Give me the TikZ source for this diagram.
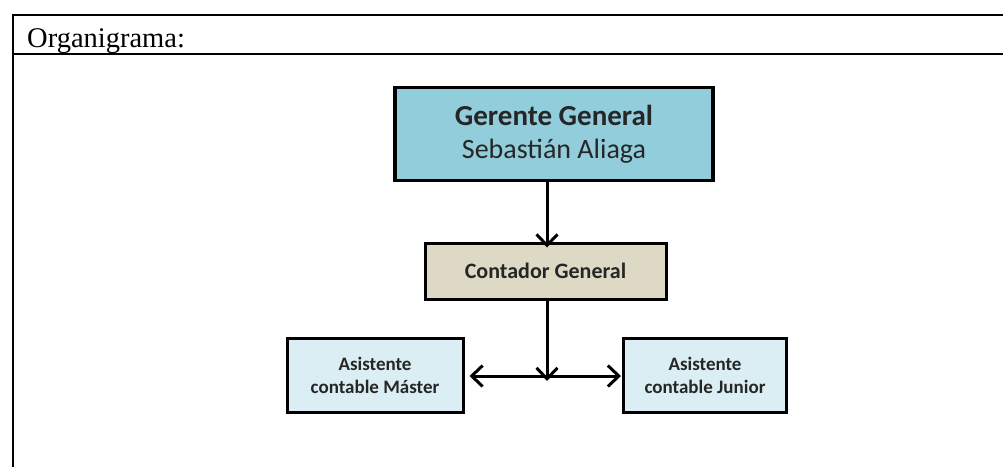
\documentclass[tikz,border=0pt]{standalone}
\usepackage{fontspec}
\setmainfont{Liberation Serif}
\newfontfamily\boxfont{Carlito}
\usetikzlibrary{arrows.meta}
\definecolor{gerblue}{HTML}{92CDDC}
\definecolor{contbeige}{HTML}{DDD9C4}
\definecolor{asiblue}{HTML}{DAEEF3}
\tikzset{
  puesto/.style={draw=black,line width=3pt,align=center,font=\boxfont\bfseries,text=black!85,inner sep=0pt},
  punta/.tip={Straight Barb[length=11pt,width=21pt,line width=3pt]},
  flecha/.style={draw=black,line width=3pt,-punta}
}
\begin{document}
\begin{tikzpicture}[x=1pt,y=-1pt]
  \useasboundingbox (0,0) rectangle (1003,467);
  % marco
  \draw[line width=2.2pt] (12,15) -- (1003,15);
  \draw[line width=1.4pt] (12,54) -- (1003,54);
  \draw[line width=2pt] (13,14) -- (13,467);
  \node[anchor=base west,font=\fontsize{28.5}{32}\selectfont,inner sep=0pt] (titulo) at (27,47) {Organigrama:};
  % cargos
  \node[puesto,fill=gerblue,minimum width=318pt,minimum height=93pt,line width=3.5pt,
    font=\boxfont\bfseries\fontsize{29}{33}\selectfont] (gerente) at (554,134)
    {Gerente General\\\fontsize{28}{33}\selectfont\mdseries Sebastián Aliaga};
  \node[puesto,fill=contbeige,minimum width=241pt,minimum height=56pt,
    font=\boxfont\bfseries\fontsize{22}{26}\selectfont] (contador) at (545.5,271)
    {Contador General};
  \node[puesto,fill=asiblue,minimum width=176pt,minimum height=74pt,
    font=\boxfont\bfseries\fontsize{19}{23}\selectfont] (master) at (375,375)
    {Asistente\\contable Máster};
  \node[puesto,fill=asiblue,minimum width=163pt,minimum height=74pt,
    font=\boxfont\bfseries\fontsize{19}{23}\selectfont] (junior) at (705,375)
    {Asistente\\contable Junior};
  \coordinate (union) at (547,376);
  % conectores
  \draw[flecha] (gerente.south -| union) -- ([yshift=-6pt]contador.north -| union);
  \draw[flecha] (contador.south -| union) -- ([yshift=-5pt]union);
  \draw[flecha,punta-punta] ([xshift=5pt]master.east |- union) -- ([xshift=-1pt]junior.west |- union);
\end{tikzpicture}
\end{document}
